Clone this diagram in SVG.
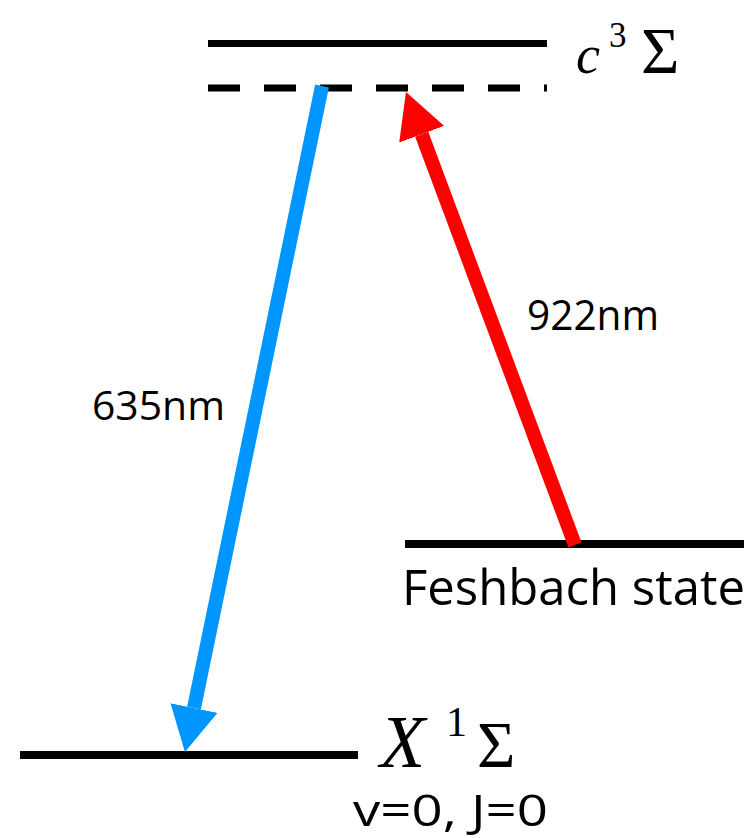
<svg xmlns="http://www.w3.org/2000/svg" width="756" height="838" viewBox="0 0 756 838">
<style>
  .lvl { stroke: #000; fill: none; }
  .lbl { font-family: "Open Sans", "Liberation Sans", sans-serif; fill: #000; }
  .math { font-family: "Liberation Serif", "DejaVu Serif", serif; fill: #000; }
  .it { font-style: italic; }
</style>
<defs>
  <marker id="headBlue" markerUnits="userSpaceOnUse" markerWidth="46" markerHeight="48" viewBox="0 0 46 48" refX="0" refY="24" orient="auto">
    <path d="M0,0 L45,24 L0,48 Z" fill="#0096FF"/>
  </marker>
  <marker id="headRed" markerUnits="userSpaceOnUse" markerWidth="46" markerHeight="48" viewBox="0 0 46 48" refX="0" refY="24" orient="auto">
    <path d="M0,0 L45,24 L0,48 Z" fill="#FF0000"/>
  </marker>
</defs>
<rect width="756" height="838" fill="#fff"/>

<g id="level-c3Sigma">
  <line class="lvl" x1="208" y1="43.5" x2="547" y2="43.5" stroke-width="7"/>
  <line class="lvl" x1="208" y1="88" x2="547" y2="88" stroke-width="7" stroke-dasharray="32 24"/>
  <text class="math" y="73"><tspan class="it" x="576" font-size="54">c</tspan><tspan x="609" y="47" font-size="35">3</tspan><tspan x="641" y="73" font-size="66">Σ</tspan></text>
</g>

<g id="level-feshbach">
  <line class="lvl" x1="405" y1="544" x2="744" y2="544" stroke-width="8"/>
  <text class="lbl" x="402" y="605" font-size="49" textLength="343" lengthAdjust="spacingAndGlyphs">Feshbach state</text>
</g>

<g id="level-X1Sigma">
  <line class="lvl" x1="20" y1="755" x2="358" y2="755" stroke-width="8"/>
  <text class="math" y="767"><tspan class="it" x="380" font-size="74">X</tspan><tspan x="446" y="736" font-size="42">1</tspan><tspan x="477" y="767" font-size="66">Σ</tspan></text>
  <text class="lbl" x="353" y="826" font-size="43" textLength="195" lengthAdjust="spacingAndGlyphs">v=0, J=0</text>
</g>

<g id="connectors">
  <line x1="322" y1="86" x2="194" y2="708" stroke="#0096FF" stroke-width="14" marker-end="url(#headBlue)"/>
  <line x1="575" y1="545" x2="421.7" y2="134.2" stroke="#FF0000" stroke-width="14" marker-end="url(#headRed)"/>
  <text class="lbl" x="92" y="420" font-size="40" textLength="133" lengthAdjust="spacingAndGlyphs">635nm</text>
  <text class="lbl" x="527" y="330" font-size="42" textLength="132" lengthAdjust="spacingAndGlyphs">922nm</text>
</g>
</svg>
